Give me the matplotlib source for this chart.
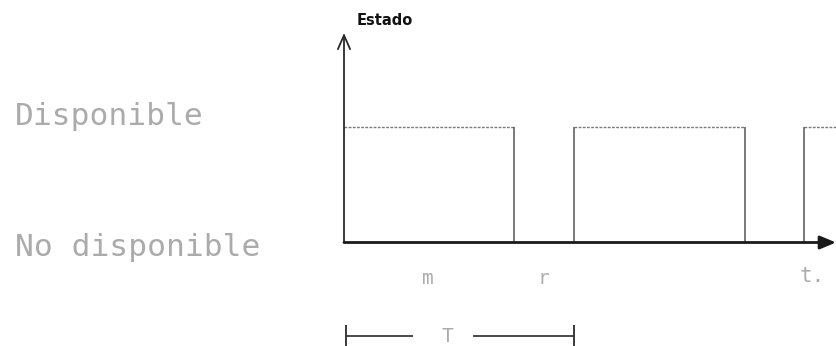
import matplotlib
matplotlib.use("Agg")
import matplotlib.pyplot as plt

# ---- data ----
change_times = [0.0, 17.0, 23.0, 40.1, 46.0]   # instants where the state changes
states = [1, 0, 1, 0, 1]                        # 1 = Disponible, 0 = No disponible
t_axis_end = 49.2
t_last_end = 50.0
state_labels = ["No disponible", "Disponible"]
period = 23.0                                   # T = m + r
x_labels = ["m", "r", "t."]
y_title = "Estado"

# ---- figure ----
W, H = 837, 346
fig = plt.figure(figsize=(W / 100, H / 100), dpi=100)
ax = fig.add_axes([0, 0, 1, 1])
ax.axis("off")
px_per_t = 10.0
x0_px = 344.0
base_px, high_px = 242.5, 127.5
px_per_y = base_px - high_px
ax.set_xlim(-x0_px / px_per_t, (W - x0_px) / px_per_t)
ax.set_ylim(-(H - base_px) / px_per_y, base_px / px_per_y)

# axes arrows
ax.annotate("", xy=(0, (base_px - 33) / px_per_y), xytext=(0, 0),
            arrowprops=dict(arrowstyle="->,head_length=0.5,head_width=0.22",
                            lw=1.3, color="#2a2a2a", mutation_scale=20,
                            shrinkA=0, shrinkB=0))
ax.annotate("", xy=(t_axis_end, 0), xytext=(0, 0),
            arrowprops=dict(arrowstyle="-|>,head_length=0.6,head_width=0.25",
                            lw=2.0, color="#1a1a1a", mutation_scale=16,
                            shrinkA=0, shrinkB=0))

# state signal: horizontal high segments and vertical transitions
ends = change_times[1:] + [t_last_end]
for s, a, b in zip(states, change_times, ends):
    if s == 1:
        ax.hlines(1, a, b, colors="#7a7a7a", lw=1.0, linestyles=(0, (2, 1)))
for i in range(1, len(change_times)):
    ax.vlines(change_times[i], 0, 1, colors="#555555", lw=1.1)

# left state labels
lab_kw = dict(family="DejaVu Sans Mono", fontsize=22.5, color="#ababab",
              va="center", ha="left")
ax.text(-32.9, 1 + 11 / px_per_y, state_labels[1], **lab_kw)
ax.text(-32.9, -5 / px_per_y, state_labels[0], **lab_kw)

# y title
ax.text(1.3, (base_px - 21) / px_per_y, y_title, fontsize=10.5, fontweight="bold",
        color="#111111", ha="left", va="center")

# x labels: m (uptime), r (repair), t
y_lab = -(279 - base_px) / px_per_y
small_kw = dict(family="DejaVu Sans Mono", color="#acacac", ha="center", va="center")
ax.text((change_times[0] + change_times[1]) / 2 - 0.1, y_lab, x_labels[0],
        fontsize=14, **small_kw)
ax.text((change_times[1] + change_times[2]) / 2 - 0.1, y_lab, x_labels[1],
        fontsize=14, **small_kw)
ax.text(change_times[4] + 0.8, y_lab + 3 / px_per_y, x_labels[2],
        fontsize=15, **small_kw)

# T bracket
y_T = -(336 - base_px) / px_per_y
tick = 11 / px_per_y
ax.vlines([0.2, period], y_T - tick, y_T + tick, colors="#2a2a2a", lw=1.3)
ax.hlines(y_T, 0.2, 6.9, colors="#2a2a2a", lw=1.2)
ax.hlines(y_T, 12.9, period, colors="#2a2a2a", lw=1.2)
ax.text(10.3, y_T, "T", fontsize=14, **small_kw)

fig.savefig("out.png", dpi=100)
